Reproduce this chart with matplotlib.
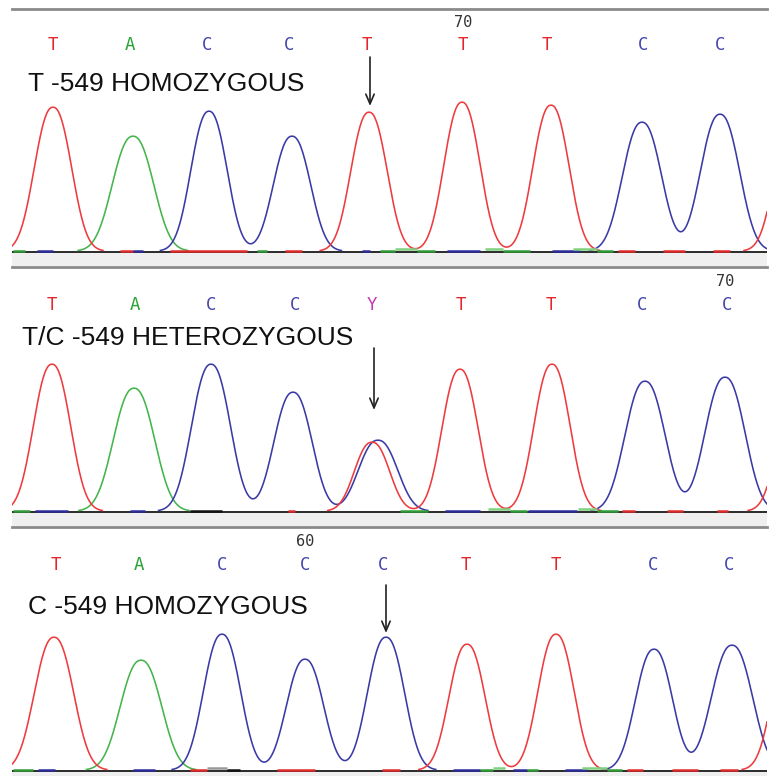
import numpy as np
import matplotlib.pyplot as plt

# peak data (scan position, height, width)
P1_PEAK_CH = ['T', 'A', 'C', 'C', 'T', 'T', 'T', 'C', 'C', 'T']
P1_PEAK_POS = [53, 133, 209, 292, 369, 462, 551, 642, 720, 794]
P1_PEAK_HGT = [144, 115, 140, 115, 139, 149, 146, 129, 137, 140]
P1_PEAK_WID = [18, 20, 17.5, 18, 17.5, 17.5, 17.5, 19, 19, 18]

P2_PEAK_CH = ['T', 'A', 'C', 'C', 'T', 'C', 'T', 'T', 'C', 'C', 'T']
P2_PEAK_POS = [52, 134, 211, 293, 372, 378, 460, 552, 645, 725, 798]
P2_PEAK_HGT = [147, 123, 147, 119, 69, 71, 142, 147, 130, 134, 140]
P2_PEAK_WID = [18, 20, 18.8, 18.5, 17, 19, 17.5, 17.5, 19.5, 19.5, 18]

P3_PEAK_CH = ['T', 'A', 'C', 'C', 'C', 'T', 'T', 'C', 'C', 'T']
P3_PEAK_POS = [54, 141, 222, 305, 386, 467, 556, 654, 732, 792]
P3_PEAK_HGT = [133, 110, 136, 111, 133, 126, 136, 121, 125, 140]
P3_PEAK_WID = [19, 20, 18, 18, 18, 17.5, 17.5, 18, 20, 18]

# base calls
P1_CALLS = list('TACCTTTCC')
P1_CALL_POS = [53, 130, 207, 289, 367, 463, 547, 643, 720]
P2_CALLS = list('TACCYTTCC')
P2_CALL_POS = [52, 135, 211, 295, 372, 461, 551, 642, 727]
P3_CALLS = list('TACCCTTCC')
P3_CALL_POS = [56, 139, 222, 305, 383, 466, 556, 653, 729]

# base numbering marks (label, position)
P1_MARK = ('70', 463)
P2_MARK = ('70', 725)
P3_MARK = ('60', 305)

# genotype label and arrowed site
P1_LABEL = 'T -549 HOMOZYGOUS'
P2_LABEL = 'T/C -549 HETEROZYGOUS'
P3_LABEL = 'C -549 HOMOZYGOUS'
P1_SITE = 370
P2_SITE = 374
P3_SITE = 386

# small noise segments sitting on the baseline (channel, start, end, level)
P1_NOISE = [('A', 13, 25, 0), ('C', 37, 53, 0), ('T', 120, 133, 0), ('C', 133, 143, 0),
            ('T', 170, 247, 0), ('A', 257, 267, 0), ('T', 285, 302, 0), ('C', 362, 370, 0),
            ('A', 380, 395, 0), ('a', 395, 417, 2), ('A', 417, 435, 0), ('C', 447, 480, 0),
            ('a', 485, 503, 2), ('A', 503, 530, 0), ('C', 552, 580, 0), ('a', 573, 597, 2),
            ('A', 597, 613, 0), ('T', 618, 635, 0), ('T', 663, 685, 0), ('T', 713, 730, 0)]
P2_NOISE = [('A', 13, 30, 0), ('C', 35, 68, 0), ('C', 130, 145, 0), ('N', 190, 222, 0),
            ('T', 288, 295, 0), ('A', 400, 428, 0), ('C', 445, 480, 0), ('a', 488, 510, 2),
            ('A', 510, 527, 0), ('C', 528, 577, 0), ('a', 578, 597, 2), ('A', 597, 618, 0),
            ('T', 622, 635, 0), ('T', 667, 683, 0), ('T', 717, 728, 0)]
P3_NOISE = [('A', 13, 33, 0), ('C', 38, 55, 0), ('C', 133, 155, 0), ('T', 190, 207, 0),
            ('n', 207, 227, 2), ('N', 227, 240, 0), ('T', 277, 315, 0), ('T', 382, 400, 0),
            ('C', 453, 480, 0), ('A', 480, 493, 0), ('a', 493, 505, 2), ('C', 513, 527, 0),
            ('A', 527, 538, 0), ('C', 565, 587, 0), ('a', 582, 607, 2), ('A', 607, 622, 0),
            ('T', 627, 643, 0), ('T', 672, 698, 0), ('T', 720, 738, 0)]

TRACE_COL = {'T': '#ee3b3e', 'A': '#45b44c', 'C': '#3a3aa6'}
NOISE_COL = {'T': '#e02a2a', 'A': '#2e9a36', 'a': '#7fd07f', 'C': '#2c2c9a',
             'N': '#111111', 'n': '#999999'}
CALL_COL = {'T': '#e3262c', 'A': '#2aa236', 'C': '#4646ac', 'Y': '#c43cb4'}

W = 778.0
X0, X1 = 12, 767


def peak_trace(x, pos, hgt, wid):
    y = np.zeros_like(x)
    for p, h, w in zip(pos, hgt, wid):
        y += h * np.exp(-0.5 * np.abs((x - p) / w) ** 2.3)
    return y


def draw_panel(top_y, base_y, bot_y, ch, pos, hgt, wid, calls, call_pos, mark,
               label, label_x, label_y, site, arr_top, arr_bot, noise, top_line):
    ax = fig.add_axes([X0 / W, 1 - bot_y / W, (X1 - X0) / W, (bot_y - top_y) / W])
    ax.set_xlim(X0, X1)
    ax.set_ylim(base_y - bot_y, base_y - top_y)
    ax.axis('off')

    x = np.linspace(X0, X1, 2000)
    for c in ['A', 'C', 'T']:
        idx = [i for i in range(len(ch)) if ch[i] == c]
        y = peak_trace(x, [pos[i] for i in idx], [hgt[i] for i in idx], [wid[i] for i in idx])
        y = np.where(y > 0.7, y + 0.8, np.nan)
        ax.plot(x, y, color=TRACE_COL[c], lw=1.15, zorder=3)

    # light band under the baseline and separator line
    ax.axhspan(base_y - bot_y + 2, 0, color='#efefef', lw=0, zorder=0)
    ax.axhline(0, color='#1a1a1a', lw=1.3, zorder=2)
    if bot_y < W:
        ax.axhline(base_y - bot_y + 1.2, color='#8a8a8a', lw=2.0, clip_on=False, zorder=2)
    if top_line:
        ax.axhline(base_y - top_y - 1.0, color='#8a8a8a', lw=2.0, clip_on=False, zorder=2)

    for c, s, e, lev in noise:
        ax.plot([s, e], [1.2 + lev, 1.2 + lev], color=NOISE_COL[c], lw=1.8,
                solid_capstyle='butt', zorder=4)

    for b, p in zip(calls, call_pos):
        ax.text(p, base_y - (top_y + 37), b, color=CALL_COL[b], fontsize=12.5,
                family='DejaVu Sans Mono', ha='center', va='center')
    ax.text(mark[1], base_y - (top_y + 14), mark[0], color='#333333', fontsize=11,
            family='DejaVu Sans Mono', ha='center', va='center')

    ax.text(label_x, base_y - label_y, label, fontsize=19, family='Liberation Sans',
            color='#111111', ha='left', va='center')
    ax.annotate('', xy=(site, base_y - arr_bot), xytext=(site, base_y - arr_top),
                arrowprops=dict(arrowstyle='->,head_length=0.7,head_width=0.3',
                                color='#222222', lw=1.2, shrinkA=0, shrinkB=0))
    return ax


fig = plt.figure(figsize=(7.78, 7.78), dpi=100)
fig.patch.set_facecolor('white')

draw_panel(8, 252, 268, P1_PEAK_CH, P1_PEAK_POS, P1_PEAK_HGT, P1_PEAK_WID,
           P1_CALLS, P1_CALL_POS, P1_MARK, P1_LABEL, 28, 84, P1_SITE, 57, 106,
           P1_NOISE, True)
draw_panel(268, 512, 528, P2_PEAK_CH, P2_PEAK_POS, P2_PEAK_HGT, P2_PEAK_WID,
           P2_CALLS, P2_CALL_POS, P2_MARK, P2_LABEL, 22, 338, P2_SITE, 348, 410,
           P2_NOISE, False)
draw_panel(528, 771, 778, P3_PEAK_CH, P3_PEAK_POS, P3_PEAK_HGT, P3_PEAK_WID,
           P3_CALLS, P3_CALL_POS, P3_MARK, P3_LABEL, 28, 607, P3_SITE, 585, 633,
           P3_NOISE, False)

fig.savefig('out.png', dpi=100)
